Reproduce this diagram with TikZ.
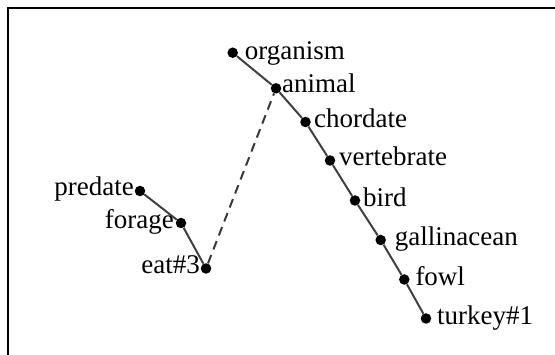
\documentclass[tikz,border=0pt]{standalone}
\usepackage{fontspec}
\setmainfont{Liberation Serif}
\begin{document}
\begin{tikzpicture}[x=1pt,y=-1pt,
  dot/.style={circle,fill=black,inner sep=0pt,minimum size=10.5pt},
  edge/.style={draw=black!75,line width=2pt},
  dashedge/.style={draw=black!78,line width=2pt,dash pattern=on 9pt off 6pt},
  lab/.style={inner sep=0pt,font=\fontsize{27}{31}\selectfont},
  rlab/.style={lab,anchor=base west},
  llab/.style={lab,anchor=base east}]
\useasboundingbox (0,0) rectangle (555,355);
\draw[line width=2pt] (8,355) -- (8,8.5) -- (555,8.5);
% dots
\node[dot] (organism) at (232.7,52.7) {};
\node[dot] (animal) at (276,88.3) {};
\node[dot] (chordate) at (305.5,122) {};
\node[dot] (vertebrate) at (330,160.5) {};
\node[dot] (bird) at (355,200.5) {};
\node[dot] (gallinacean) at (380.7,240) {};
\node[dot] (fowl) at (404.3,279.5) {};
\node[dot] (turkey) at (426,318.5) {};
\node[dot] (predate) at (140,191) {};
\node[dot] (forage) at (181,223) {};
\node[dot] (eat) at (206,268.5) {};
% edges
\draw[edge] (organism) -- (animal) -- (chordate) -- (vertebrate) -- (bird)
  -- (gallinacean) -- (fowl) -- (turkey);
\draw[edge] (predate) -- (forage) -- (eat);
\draw[dashedge] (eat) -- (animal);
% labels
\node[rlab] (lorganism) at ([xshift=12pt,yshift=-7pt]organism.center) {organism};
\node[rlab] (lanimal) at ([xshift=6pt,yshift=-4pt]animal.center) {animal};
\node[rlab] (lchordate) at ([xshift=8.5pt,yshift=-6pt]chordate.center) {chordate};
\node[rlab] (lvertebrate) at ([xshift=9pt,yshift=-5pt]vertebrate.center) {vertebrate};
\node[rlab] (lbird) at ([xshift=8pt,yshift=-6pt]bird.center) {bird};
\node[rlab] (lgallinacean) at ([xshift=14pt,yshift=-6pt]gallinacean.center) {gallinacean};
\node[rlab] (lfowl) at ([xshift=11pt,yshift=-6pt]fowl.center) {fowl};
\node[rlab] (lturkey) at ([xshift=11pt,yshift=-6pt]turkey.center) {turkey\#1};
\node[llab] (lpredate) at ([xshift=-6pt,yshift=-5pt]predate.center) {predate};
\node[llab] (lforage) at ([xshift=-7pt,yshift=-6pt]forage.center) {forage};
\node[llab] (leat) at ([xshift=-6pt,yshift=-5pt]eat.center) {eat\#3};
\end{tikzpicture}
\end{document}
